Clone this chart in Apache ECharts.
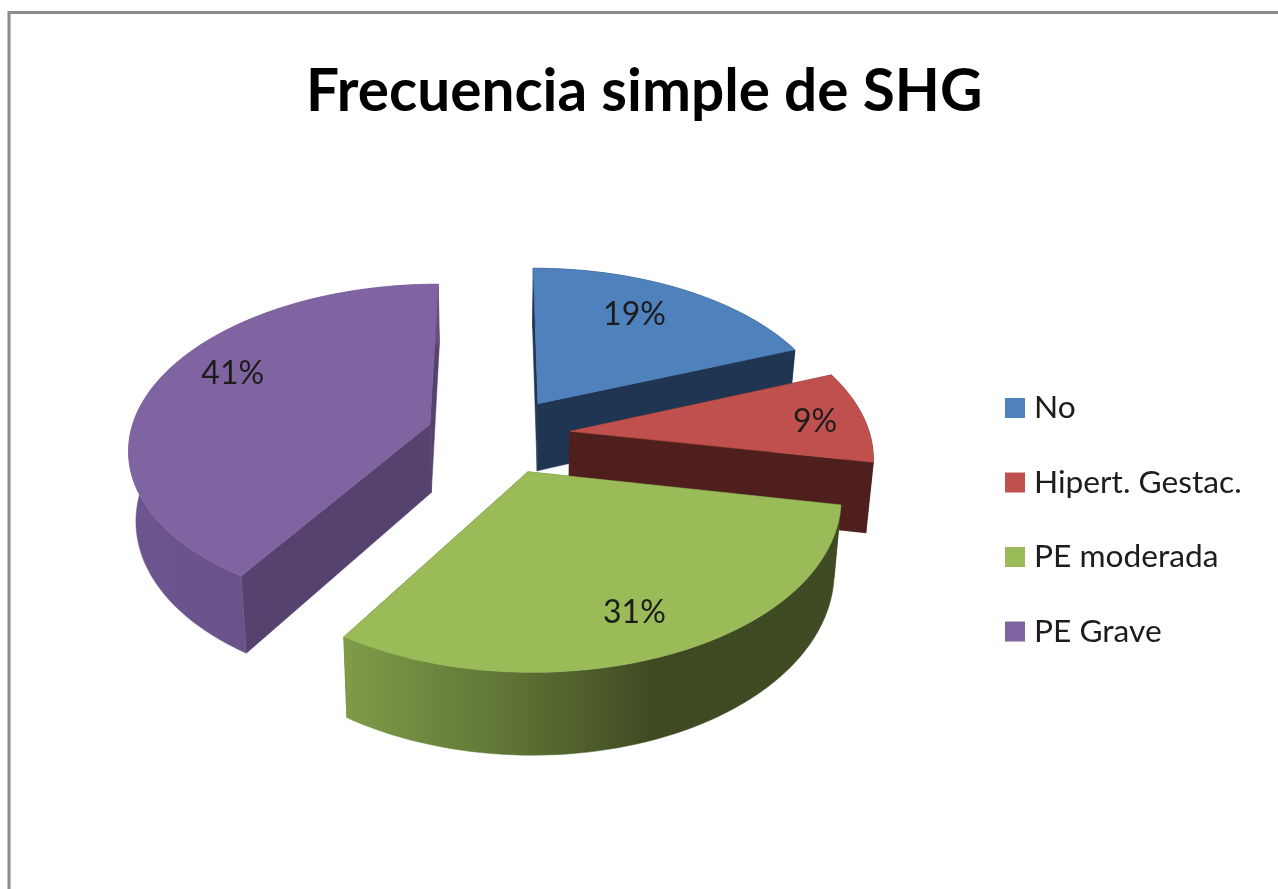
<!DOCTYPE html>
<html><head><meta charset="utf-8">
<style>html,body{margin:0;padding:0;background:#fff}#c{width:1278px;height:889px;filter:blur(0.6px)}</style>
<script src="https://cdn.jsdelivr.net/npm/echarts@6/dist/echarts.min.js"></script>
</head><body><div id="c"></div>
<script>
const titleText = 'Frecuencia simple de SHG';
const categories = ['No', 'Hipert. Gestac.', 'PE moderada', 'PE Grave'];
const sliceValues = [19, 9, 31, 41];

// Styling and 3D projection constants (not data)
const topColors = ['#4f81bd', '#c0504d', '#9bbb59', '#8064a2'];
const radialWall = ['#1f3552', '#4f1f1e', '#4a5a2a', '#55426f'];
const font = 'Lato';
const P = {cx: 498.5, cy: 435, a: 300, b: 162, k: 0.137, explode: 0.24, depth: 69, shrink: 0.98};
const labelRadius = [0.68, 0.8, 0.84, 0.72];
const labelNudge = [[-4.5, -9], [10, 2], [-13, -8], [1, -19]];

function outerWallFill(i) {
  if (i === 2) return new echarts.graphic.LinearGradient(0, 0, 1, 0, [
    {offset: 0, color: '#7f9c48'}, {offset: 0.35, color: '#5d7234'},
    {offset: 0.62, color: '#3f4a22'}, {offset: 1, color: '#3f4b22'}]);
  if (i === 3) return new echarts.graphic.LinearGradient(0, 0, 1, 0, [
    {offset: 0, color: '#6d5590'}, {offset: 1, color: '#64507e'}]);
  return radialWall[i];
}
function project(X, Y, lower) {
  const w = 1 / (1 + P.k * Y);
  const sx = X * P.a * w;
  return [P.cx + sx * (lower ? P.shrink : 1), P.cy - Y * P.b * w + (lower ? P.depth * w : 0)];
}
const total = sliceValues.reduce((s, v) => s + v, 0);
function sliceGeometry(i, value) {
  const before = sliceValues.slice(0, i).reduce((s, v) => s + v, 0);
  const t0 = before / total * 2 * Math.PI, t1 = (before + value) / total * 2 * Math.PI;
  const m = (t0 + t1) / 2;
  const ox = P.explode * Math.sin(m), oy = P.explode * Math.cos(m);
  const rim = (lower) => {
    const pts = [], n = Math.max(8, Math.round((t1 - t0) / 0.03));
    for (let j = 0; j <= n; j++) {
      const t = t0 + (t1 - t0) * j / n;
      pts.push(project(ox + Math.sin(t), oy + Math.cos(t), lower));
    }
    return pts;
  };
  return {m, ox, oy, rim, apex: project(ox, oy, false), apexLow: project(ox, oy, true)};
}
function renderSlice(i) {
  return function (params, api) {
    const value = api.value(0);
    const g = sliceGeometry(i, value);
    const up = g.rim(false), low = g.rim(true);
    const poly = (points, fill) => ({type: 'polygon', shape: {points}, style: {fill, stroke: fill, lineWidth: 0.5}});
    const last = up.length - 1;
    const rho = labelRadius[i] + P.explode;
    const lp = project(rho * Math.sin(g.m), rho * Math.cos(g.m), false);
    return {type: 'group', children: [
      poly([g.apex, up[0], low[0], g.apexLow], radialWall[i]),
      poly([g.apex, up[last], low[last], g.apexLow], radialWall[i]),
      poly(up.concat(low.slice().reverse()), outerWallFill(i)),
      poly([g.apex].concat(up), topColors[i]),
      {type: 'text', style: {
        text: value + '%', x: lp[0] + labelNudge[i][0], y: lp[1] + labelNudge[i][1],
        fill: '#1c1c1c', font: '32px ' + font, align: 'center', verticalAlign: 'middle'}}
    ]};
  };
}
const chart = echarts.init(document.getElementById('c'), null, {renderer: 'canvas'});
chart.setOption({
  animation: false,
  backgroundColor: '#fff',
  title: {text: titleText, left: 301, top: 58,
    textStyle: {fontFamily: font, fontWeight: 'bold', fontSize: 58.5, color: '#000'}},
  legend: {orient: 'vertical', left: 1000, top: 387, icon: 'rect', itemWidth: 20, itemHeight: 20,
    itemGap: 42.5, data: categories,
    textStyle: {fontFamily: font, fontSize: 31.7, color: '#1c1c1c', padding: [0, 0, 0, 4]}},
  graphic: [{type: 'rect', shape: {x: 9, y: 12.5, width: 1400, height: 1000},
    style: {fill: 'none', stroke: '#8c8c8c', lineWidth: 3}, silent: true, z: -1}],
  series: categories.map((name, i) => ({
    type: 'custom', name, coordinateSystem: 'none', data: [[sliceValues[i]]],
    itemStyle: {color: topColors[i]}, renderItem: renderSlice(i), silent: true
  }))
});
</script></body></html>
